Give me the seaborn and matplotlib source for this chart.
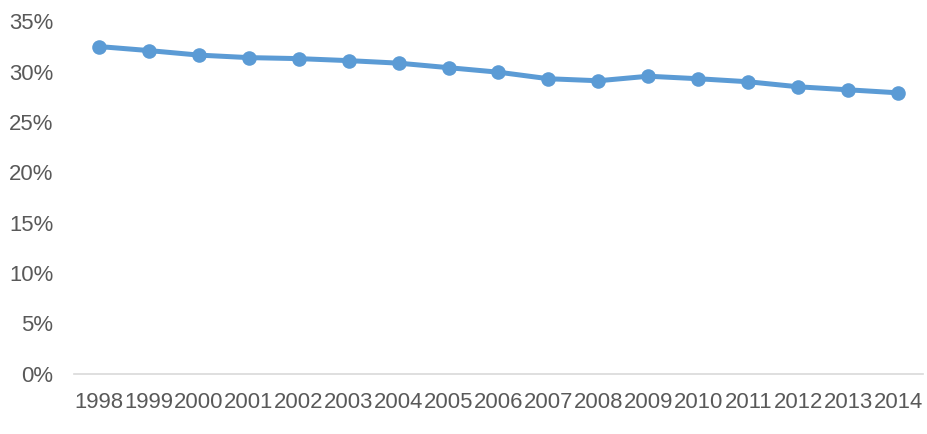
import pandas as pd
import matplotlib
matplotlib.use("Agg")
import matplotlib.pyplot as plt
import seaborn as sns
from matplotlib.ticker import PercentFormatter

years = ['1998', '1999', '2000', '2001', '2002', '2003', '2004', '2005', '2006',
         '2007', '2008', '2009', '2010', '2011', '2012', '2013', '2014']
share = [32.5, 32.1, 31.65, 31.4, 31.3, 31.1, 30.85, 30.4, 29.95,
         29.3, 29.1, 29.55, 29.3, 29.0, 28.5, 28.2, 27.9]

df = pd.DataFrame({'year': years, 'share': share})

sns.set_style('white')
plt.rcParams['font.family'] = ['Liberation Sans', 'DejaVu Sans']

fig = plt.figure(figsize=(9.27, 4.34), dpi=100)
ax = fig.add_axes([0.0798, 0.1394, 0.9159, 0.8113])

sns.lineplot(data=df, x='year', y='share', ax=ax, color='#5B9BD5',
             linewidth=3.6, marker='o', markersize=10.5, markeredgewidth=0,
             sort=False)

ax.set_xlim(-0.5, len(years) - 0.5)
ax.set_ylim(0, 35)
ax.set_yticks(range(0, 36, 5))
ax.yaxis.set_major_formatter(PercentFormatter(decimals=0))
ax.set_xlabel('')
ax.set_ylabel('')

for side in ['left', 'right', 'top']:
    ax.spines[side].set_visible(False)
ax.spines['bottom'].set_color('#D9D9D9')
ax.spines['bottom'].set_linewidth(1.2)

ax.tick_params(axis='both', length=0, labelsize=15.9, labelcolor='#595959')
ax.tick_params(axis='y', pad=15)
ax.tick_params(axis='x', pad=13)

fig.savefig('out.png', dpi=100)
